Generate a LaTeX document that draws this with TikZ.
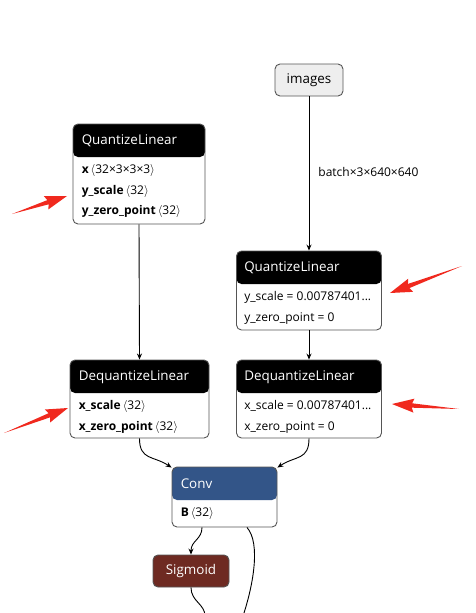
\documentclass[tikz,border=0pt]{standalone}
\usepackage{fontspec}
\setmainfont{Open Sans}
\usetikzlibrary{arrows.meta,calc,positioning}
\definecolor{cHead}{HTML}{000000}
\definecolor{cConv}{HTML}{335588}
\definecolor{cAct}{HTML}{6E2A22}
\definecolor{cEdge}{HTML}{555555}
\definecolor{cIn}{HTML}{EEEEEE}
\definecolor{cMark}{HTML}{F0291E}
\tikzset{
  op/.style    = {rectangle, rounded corners=5pt, draw=cEdge, fill=white, line width=0.9pt,
                  inner sep=0pt,
                  path picture={\fill[#1] (path picture bounding box.north west)
                    rectangle ([yshift=-33pt]path picture bounding box.north east);}},
  op/.default  = cHead,
  ttl/.style   = {anchor=west, text=white, font=\fontsize{13.4}{15}\selectfont, inner sep=0pt},
  prm/.style   = {anchor=north west, align=left, font=\fontsize{12}{20.5}\selectfont, inner sep=0pt},
  inp/.style   = {rectangle, rounded corners=5pt, draw=cEdge, fill=cIn, line width=0.9pt,
                  minimum width=68pt, minimum height=32pt, font=\fontsize{13.4}{15}\selectfont},
  act/.style   = {rectangle, rounded corners=5pt, draw=cEdge, fill=cAct, line width=0.9pt,
                  text=white, minimum width=76pt, minimum height=32pt, font=\fontsize{13.4}{15}\selectfont},
  fl/.style    = {-{Stealth[length=6pt,width=5pt]}, line width=0.9pt},
  ln/.style    = {line width=0.9pt},
  lab/.style   = {font=\fontsize{12}{14}\selectfont, inner sep=0pt},
}
\newcommand{\ang}[1]{\,\ensuremath{\langle}#1\ensuremath{\rangle}}
% red pointer: tail, tip
\newcommand{\pointer}[2]{%
  \fill[cMark] (#1) -- ($(#2)!20pt!(#1)!2.2pt!90:(#2)$) -- ($(#2)!22pt!(#1)!7pt!90:(#2)$)
    -- (#2) -- ($(#2)!22pt!(#1)!7pt!-90:(#2)$) -- ($(#2)!20pt!(#1)!2.2pt!-90:(#2)$) -- cycle;}

\begin{document}
\begin{tikzpicture}[x=1pt, y=-1pt]
  \useasboundingbox (0,0) rectangle (475,613);

  \node[inp] (img) at (309,80) {images};

  \node[op, minimum width=132pt, minimum height=100pt] (qL) at (139,174) {};
  \node[ttl] (qLt) at ([xshift=9pt,yshift=-17.5pt]qL.north west) {QuantizeLinear};
  \node[prm] (qLp) at ([xshift=9pt,yshift=-41pt]qL.north west)
    {\textbf{x}\ang{32×3×3×3}\\\textbf{y\_scale}\ang{32}\\\textbf{y\_zero\_point}\ang{32}};

  \node[op, minimum width=145pt, minimum height=79pt] (qR) at (309,290.5) {};
  \node[ttl] (qRt) at ([xshift=8pt,yshift=-17.5pt]qR.north west) {QuantizeLinear};
  \node[prm] (qRp) at ([xshift=8pt,yshift=-41pt]qR.north west)
    {y\_scale = 0.00787401...\\y\_zero\_point = 0};

  \node[op, minimum width=139pt, minimum height=78pt] (dqL) at (139.5,399) {};
  \node[ttl] (dqLt) at ([xshift=9pt,yshift=-17.5pt]dqL.north west) {DequantizeLinear};
  \node[prm] (dqLp) at ([xshift=9pt,yshift=-41pt]dqL.north west)
    {\textbf{x\_scale}\ang{32}\\\textbf{x\_zero\_point}\ang{32}};

  \node[op, minimum width=145pt, minimum height=78pt] (dqR) at (309,399) {};
  \node[ttl] (dqRt) at ([xshift=8pt,yshift=-17.5pt]dqR.north west) {DequantizeLinear};
  \node[prm] (dqRp) at ([xshift=8pt,yshift=-41pt]dqR.north west)
    {x\_scale = 0.00787401...\\x\_zero\_point = 0};

  \node[op=cConv, minimum width=105pt, minimum height=60pt] (conv) at (224.5,497) {};
  \node[ttl] (convt) at ([xshift=9pt,yshift=-17.5pt]conv.north west) {Conv};
  \node[prm] (convp) at ([xshift=9pt,yshift=-41pt]conv.north west) {\textbf{B}\ang{32}};

  \node[act] (sig) at (191,571) {Sigmoid};

  \coordinate (c1) at ([xshift=-22.5pt]conv.south);
  \coordinate (c2) at ([xshift=22.5pt]conv.south);
  \coordinate (o1) at (205,616);
  \coordinate (o2) at (243,616);

  \draw[fl] (img.south) -- node[lab, anchor=west, pos=0.49, xshift=9pt] {batch×3×640×640} (qR.north);
  \draw[fl] (qL.south) -- (dqL.north);
  \draw[fl] (qR.south) -- (dqR.north);
  \draw[fl] (dqL.south) .. controls +(0,22) and +(-18,-12) .. ([yshift=-1pt]conv.north west);
  \draw[fl] (dqR.south) .. controls +(0,22) and +(18,-12) .. ([yshift=-1pt]conv.north east);
  \draw[fl] (c1) .. controls +(0,12) and +(0,-14) .. (sig.north);
  \draw[ln] (sig.south) .. controls +(0,14) and +(0,-12) .. (o1);
  \draw[ln] (c2) .. controls +(14,16) and +(10,-30) .. (o2);

  \coordinate (m1a) at (12,214);  \coordinate (m1b) at (67,196);
  \coordinate (m2a) at (462,266); \coordinate (m2b) at (390,293);
  \coordinate (m3a) at (4,433);   \coordinate (m3b) at (68,408);
  \coordinate (m4a) at (459,409); \coordinate (m4b) at (392,404);
  \pointer{m1a}{m1b}
  \pointer{m2a}{m2b}
  \pointer{m3a}{m3b}
  \pointer{m4a}{m4b}
\end{tikzpicture}
\end{document}
